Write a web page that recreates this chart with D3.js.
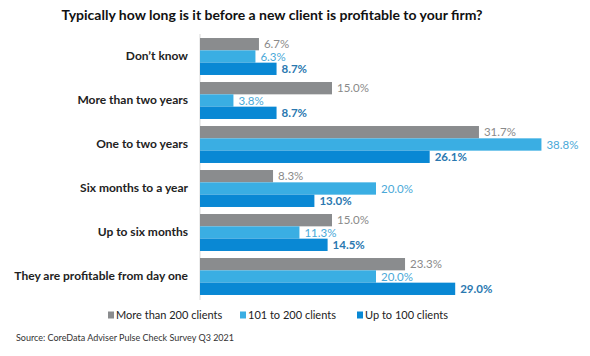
<!DOCTYPE html>
<html><head><meta charset="utf-8">
<script src="https://cdn.jsdelivr.net/npm/d3@7"></script>
<style>body{margin:0;background:#fff}svg{display:block}</style>
</head><body>
<script>
const categories = ["Don\u2019t know","More than two years","One to two years","Six months to a year","Up to six months","They are profitable from day one"];
const seriesNames = ["More than 200 clients","101 to 200 clients","Up to 100 clients"];
const over200 = [6.7,15.0,31.7,8.3,15.0,23.3];
const from101to200 = [6.3,3.8,38.8,20.0,11.3,20.0];
const upTo100 = [8.7,8.7,26.1,13.0,14.5,29.0];
const title = "Typically how long is it before a new client is profitable to your firm?";
const source = "Source: CoreData Adviser Pulse Check Survey Q3 2021";

const seriesValues = [over200, from101to200, upTo100];
const barColors = ["#8a8c8e","#3aaee3","#0988d4"];
const labelColors = ["#8a8a8a","#4aa9d8","#2a78b0"];
const labelWeights = ["normal","normal","bold"];
const font = "Lato, 'Open Sans', sans-serif";

const W=590,H=356;
const svg=d3.select("body").append("svg").attr("width",W).attr("height",H);

const x=d3.scaleLinear().domain([0,40]).range([200,552]);
const y=d3.scaleBand().domain(categories).range([34.5,298.5]).paddingInner(0.16).paddingOuter(0.08);
const ys=d3.scaleBand().domain(d3.range(3)).range([0,y.bandwidth()]);

svg.append("text").attr("x",272).attr("y",20).attr("text-anchor","middle")
  .attr("font-family",font).attr("font-weight","bold").attr("font-size",14).attr("fill","#111")
  .text(title);

// axis line
svg.append("line").attr("x1",x(0)).attr("x2",x(0)).attr("y1",34).attr("y2",300)
  .attr("stroke","#d9d9d9").attr("stroke-width",1);

const yAxis=d3.axisLeft(y).tickSize(0).tickPadding(12);
const ga=svg.append("g").attr("transform",`translate(${x(0)},0)`).call(yAxis);
ga.select(".domain").remove();
ga.selectAll("text").attr("font-family",font).attr("font-size",12).attr("font-weight","bold").attr("fill","#222");

categories.forEach((c,i)=>{
  const g=svg.append("g").attr("transform",`translate(0,${y(c)})`);
  seriesValues.forEach((vals,s)=>{
    g.append("rect").attr("x",x(0)).attr("y",ys(s)).attr("width",x(vals[i])-x(0)).attr("height",ys.bandwidth())
      .attr("fill",barColors[s]);
    g.append("text").attr("x",x(vals[i])+5).attr("y",ys(s)+ys.bandwidth()/2).attr("dy","0.36em")
      .attr("font-family",font).attr("font-size",11.5).attr("font-weight",labelWeights[s]).attr("fill",labelColors[s])
      .text(vals[i].toFixed(1)+"%");
  });
});

// legend
const legX=[108,240,357];
seriesNames.forEach((n,s)=>{
  const g=svg.append("g").attr("transform",`translate(${legX[s]},315)`);
  g.append("rect").attr("x",0).attr("y",-3.5).attr("width",6).attr("height",7).attr("fill",barColors[s]);
  g.append("text").attr("x",8).attr("y",0).attr("dy","0.36em").attr("font-family",font).attr("font-size",11)
    .attr("fill","#222").text(n);
});

svg.append("text").attr("x",16).attr("y",341).attr("font-family",font).attr("font-size",9).attr("fill","#333").text(source);
</script>
</body></html>
